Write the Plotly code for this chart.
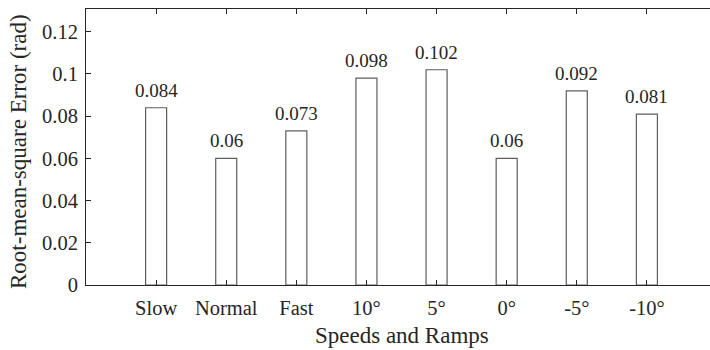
import plotly.graph_objects as go

categories = ["Slow", "Normal", "Fast", "10°", "5°", "0°", "-5°", "-10°"]
rmse = [0.084, 0.06, 0.073, 0.098, 0.102, 0.06, 0.092, 0.081]
y_ticks = [0, 0.02, 0.04, 0.06, 0.08, 0.1, 0.12]
y_tick_labels = ["0", "0.02", "0.04", "0.06", "0.08", "0.1", "0.12"]
x_title = "Speeds and Ramps"
y_title = "Root-mean-square Error (rad)"

positions = list(range(1, len(categories) + 1))
FONT = "Liberation Serif, Times New Roman, serif"
AX = "#262626"

fig = go.Figure(go.Bar(
    x=positions, y=rmse, width=0.3,
    marker=dict(color="white", line=dict(color="#5e5e5e", width=1.2)),
    hoverinfo="skip",
))

# value labels above bars
for p, v in zip(positions, rmse):
    fig.add_annotation(x=p, y=v, text=f"{v:g}", showarrow=False,
                       xanchor="center", yanchor="bottom", yshift=5,
                       font=dict(family=FONT, size=19, color=AX))

# axis titles as annotations (centred like the original, whose axes box runs past the right edge)
fig.add_annotation(xref="paper", yref="paper", x=(401.5 - 86) / 624, y=(285 - 335) / 276,
                   text=x_title, showarrow=False, xanchor="center", yanchor="middle",
                   font=dict(family=FONT, size=23, color=AX))
fig.add_annotation(xref="paper", yref="paper", x=(18 - 86) / 624, y=(285 - 152) / 276,
                   text=y_title, showarrow=False, textangle=-90, xanchor="center", yanchor="middle",
                   font=dict(family=FONT, size=23, color=AX))

fig.update_layout(
    width=710, height=350,
    margin=dict(l=86, r=0, t=9, b=65, autoexpand=False),
    paper_bgcolor="white", plot_bgcolor="white",
    font=dict(family=FONT, size=20, color=AX),
    showlegend=False,
    xaxis=dict(
        range=[0, 8.9], tickmode="array", tickvals=positions, ticktext=categories,
        ticks="inside", ticklen=5, tickcolor=AX, showline=True, linecolor=AX, linewidth=1,
        mirror="ticks", showgrid=False, zeroline=False, automargin=False,
        ticklabelstandoff=4,
        tickfont=dict(family=FONT, size=20.5, color=AX),
    ),
    yaxis=dict(
        range=[0, 0.1308], tickmode="array", tickvals=y_ticks, ticktext=y_tick_labels,
        ticks="inside", ticklen=5, tickcolor=AX, showline=True, linecolor=AX, linewidth=1,
        showgrid=False, zeroline=False, automargin=False,
        ticklabelstandoff=3,
        tickfont=dict(family=FONT, size=20.5, color=AX),
    ),
)

fig.write_html("out.html", config={"displayModeBar": False},
               post_script="document.body.style.margin='0';document.body.style.overflow='hidden';")
